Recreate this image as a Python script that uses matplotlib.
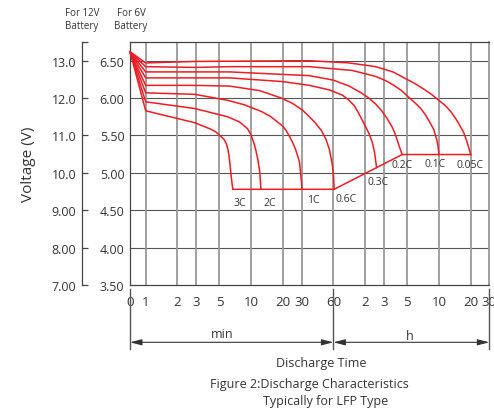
import matplotlib
matplotlib.use("Agg")
import matplotlib.pyplot as plt
import matplotlib.transforms as mtransforms

plt.rcParams["font.family"] = ["Open Sans", "DejaVu Sans"]

# --- DATA (time in minutes, voltage for the 6V battery) ---
START_V = 6.62
rates = ["3C", "2C", "1C", "0.6C", "0.3C", "0.2C", "0.1C", "0.05C"]

t_3c = [1, 2.92, 4.04, 4.6, 5.02, 5.5, 5.81, 6.0, 6.15, 6.3, 6.45, 6.6, 6.7]
v_3c = [5.83, 5.67, 5.59, 5.55, 5.50, 5.45, 5.39, 5.32, 5.23, 5.10, 4.96, 4.84, 4.78]

t_2c = [1, 2.92, 5.97, 7.76, 9.23, 10.0, 10.7, 11.1, 11.5, 12.0, 12.2, 12.35]
v_2c = [5.95, 5.86, 5.75, 5.68, 5.59, 5.50, 5.38, 5.29, 5.19, 5.03, 4.89, 4.78]

t_1c = [1, 2.92, 5.97, 8.6, 12.5, 15.0, 19.7, 21.3, 23.0, 24.6, 26.2, 28.6, 29.5, 30.3]
v_1c = [6.07, 6.05, 5.97, 5.91, 5.82, 5.76, 5.63, 5.57, 5.49, 5.41, 5.32, 5.15, 4.97, 4.78]

t_06c = [1, 2.92, 6.24, 12.0, 19.3, 24.5, 30.5, 35.0, 40.4, 43.0, 46.0, 48.5, 51.0,
         54.8, 58.5, 60.2, 61]
v_06c = [6.17, 6.17, 6.16, 6.10, 6.00, 5.93, 5.84, 5.76, 5.67, 5.62, 5.57, 5.51, 5.45,
         5.32, 5.12, 4.96, 4.78]

t_03c = [1, 2.92, 6.24, 20.0, 35.5, 54.8, 72.8, 83.0, 94.4, 103, 112, 122, 131, 140, 147, 154]
v_03c = [6.27, 6.27, 6.27, 6.22, 6.17, 6.11, 6.04, 5.98, 5.90, 5.81, 5.71, 5.61, 5.52,
         5.41, 5.28, 5.07]

t_02c = [1, 2.92, 6.24, 35.5, 60, 84.7, 110, 130, 151, 172, 193, 215, 228, 240, 253, 269]
v_02c = [6.35, 6.35, 6.35, 6.30, 6.24, 6.16, 6.07, 6.00, 5.92, 5.83, 5.73, 5.62, 5.54,
         5.45, 5.35, 5.245]

t_01c = [1, 2.92, 6.24, 35.5, 90, 151, 190, 225, 265, 311, 360, 404, 445, 481, 536,
         573, 589, 600]
v_01c = [6.42, 6.41, 6.42, 6.42, 6.37, 6.29, 6.23, 6.17, 6.10, 6.01, 5.93, 5.86, 5.78,
         5.70, 5.58, 5.44, 5.35, 5.245]

t_005c = [1, 2.92, 35.5, 84.7, 151, 220, 290, 360, 431, 510, 598, 690, 776, 860, 923,
          1029, 1098, 1159, 1200]
v_005c = [6.47, 6.49, 6.50, 6.47, 6.42, 6.35, 6.26, 6.19, 6.12, 6.05, 5.97, 5.90, 5.82,
          5.73, 5.66, 5.54, 5.43, 5.32, 5.245]

# end-of-discharge line
cut_t = [6.7, 61, 269, 1200]
cut_v = [4.78, 4.78, 5.245, 5.245]

# axis ticks
x_ticks = [1, 2, 3, 5, 10, 20, 30, 60, 120, 180, 300, 600, 1200]
x_labels = ["1", "2", "3", "5", "10", "20", "30", "60", "2", "3", "5", "10", "20"]
v6_ticks = [3.5, 4.0, 4.5, 5.0, 5.5, 6.0, 6.5]
v6_labels = ["3.50", "4.00", "4.50", "5.00", "5.50", "6.00", "6.50"]
v12_ticks = [7, 8, 9, 10, 11, 12, 13, 13.5]
v12_labels = ["7.00", "8.00", "9.00", "10.0", "11.0", "12.0", "13.0", ""]

# where the rate names sit
lab_t = [7.76, 14.9, 38.7, 78.8, 160, 269, 556, 1189]
lab_v = [4.61, 4.61, 4.64, 4.66, 4.88, 5.11, 5.12, 5.11]

T_ZERO = 0.71   # the "0" at the left edge of the log axis
T_END = 1800    # 30 h
RED = "#ee1c25"
TXT = "#333333"

curves = [(t_3c, v_3c), (t_2c, v_2c), (t_1c, v_1c), (t_06c, v_06c),
          (t_03c, v_03c), (t_02c, v_02c), (t_01c, v_01c), (t_005c, v_005c)]

fig = plt.figure(figsize=(4.94, 4.10), dpi=100)
ax = fig.add_axes([130 / 494, 124 / 410, 359.3 / 494, 243 / 410])

ax.set_xscale("log")
ax.set_xlim(T_ZERO, T_END)
ax.set_ylim(3.5, 6.75)
ax.minorticks_off()

# grid
for v in v6_ticks[1:]:
    ax.axhline(v, color="#555555", lw=0.8, zorder=1)
for t in x_ticks:
    ax.axvline(t, color="#999999", lw=1.3, zorder=1)

for spine in ["left", "top", "bottom"]:
    ax.spines[spine].set_color("#444444")
    ax.spines[spine].set_linewidth(0.9)
ax.spines["right"].set_color("#999999")
ax.spines["right"].set_linewidth(1.3)

# curves
for t, v in curves:
    ax.plot([T_ZERO] + t, [START_V] + v, color=RED, lw=1.1, zorder=3, clip_on=False,
            solid_joinstyle="round")
ax.plot(cut_t, cut_v, color=RED, lw=1.1, zorder=3)

for name, t, v in zip(rates, lab_t, lab_v):
    ax.text(t, v, name, fontsize=7.5, color=TXT, ha="center", va="center")

# x ticks
ax.set_xticks([T_ZERO] + x_ticks + [T_END], ["0"] + x_labels + ["30"])
ax.tick_params(axis="x", length=0, pad=7, labelsize=9.5, labelcolor=TXT)

# 6V axis
ax.set_yticks(v6_ticks, v6_labels)
ax.tick_params(axis="y", length=0, pad=4, labelsize=9, labelcolor=TXT)

# 12V axis
sec = ax.secondary_yaxis(-0.1344, functions=(lambda v: v * 2, lambda v: v / 2))
sec.set_yticks(v12_ticks, v12_labels)
sec.tick_params(axis="y", direction="in", length=4.5, width=0.9, color="#444444",
                pad=4, labelsize=9, labelcolor=TXT)
sec.spines["left"].set_color("#444444")
sec.spines["left"].set_linewidth(0.9)

# min / h brackets under the axis
trans = mtransforms.blended_transform_factory(ax.transData, fig.transFigure)
for t in [T_ZERO, 60, T_END]:
    ax.plot([t, t], [120 / 410, 60 / 410], color="#555555", lw=1.0,
            transform=trans, clip_on=False)
arrow_y = 66.7 / 410
arrow = dict(arrowstyle="<|-|>,head_length=0.7,head_width=0.18", color="#333333",
             lw=0.8, shrinkA=0, shrinkB=0, mutation_scale=10)
ax.annotate("", xy=(T_ZERO, arrow_y), xytext=(60, arrow_y),
            xycoords=("data", "figure fraction"), textcoords=("data", "figure fraction"),
            arrowprops=arrow)
ax.annotate("", xy=(60, arrow_y), xytext=(T_END, arrow_y),
            xycoords=("data", "figure fraction"), textcoords=("data", "figure fraction"),
            arrowprops=arrow)

fig.text(221.7 / 494, 1 - 335 / 410, "min", fontsize=9, color=TXT, ha="center", va="center")
fig.text(410 / 494, 1 - 336.7 / 410, "h", fontsize=9, color=TXT, ha="center", va="center")
fig.text(321.7 / 494, 1 - 363.3 / 410, "Discharge Time", fontsize=9, color=TXT,
         ha="center", va="center")
fig.text(309.7 / 494, 1 - 385 / 410, "Figure 2:Discharge Characteristics", fontsize=9,
         color=TXT, ha="center", va="center")
fig.text(325.8 / 494, 1 - 401.7 / 410, "Typically for LFP Type", fontsize=9,
         color=TXT, ha="center", va="center")

fig.text(28 / 494, 1 - 164 / 410, "Voltage (V)", fontsize=11, color=TXT, rotation=90,
         ha="center", va="center")
fig.text(82 / 494, 1 - 20 / 410, "For 12V\nBattery", fontsize=7, color=TXT,
         ha="center", va="center", linespacing=1.3)
fig.text(131 / 494, 1 - 20 / 410, "For 6V\nBattery", fontsize=7, color=TXT,
         ha="center", va="center", linespacing=1.3)

fig.savefig("out.png", dpi=100)
